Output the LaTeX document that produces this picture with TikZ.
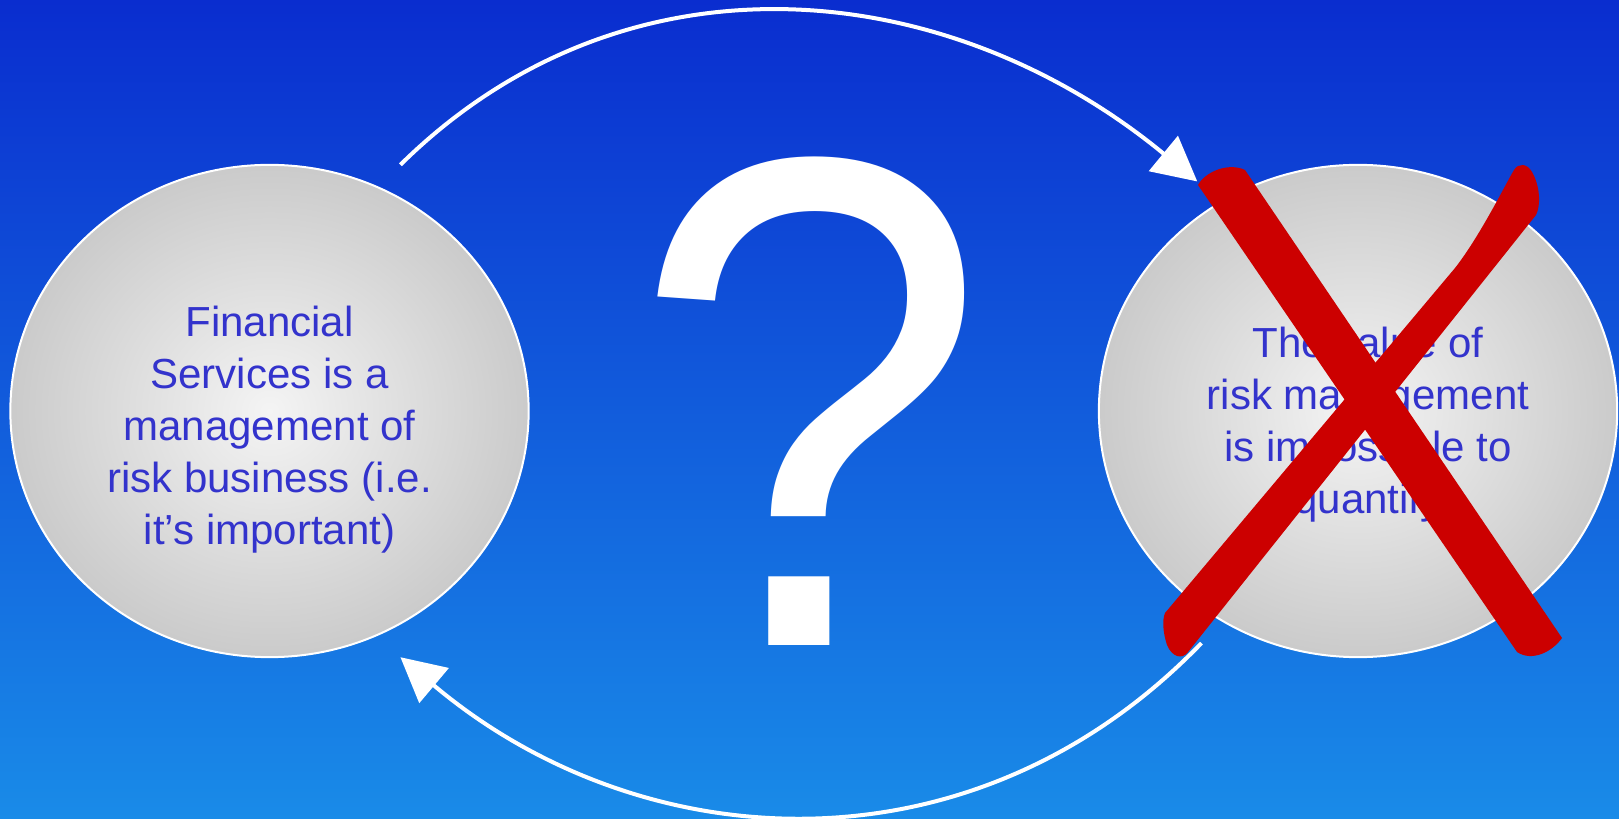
\documentclass[tikz,border=0pt]{standalone}
\usepackage{fontspec}
\setmainfont{Liberation Sans}
\usepackage{xcolor}
\usepackage{tikz}
\usetikzlibrary{shapes.geometric, arrows.meta, positioning, calc}
\definecolor{bgtop}{HTML}{0A2DCF}
\definecolor{bgbot}{HTML}{198BE8}
\definecolor{bubblerim}{HTML}{BABABA}
\definecolor{bubblemid}{HTML}{F4F4F4}
\definecolor{textblue}{HTML}{3333CC}
\definecolor{crossred}{HTML}{CC0000}
\pgfdeclareradialshading{bubbleshade}{\pgfpoint{0bp}{0bp}}{%
  color(0bp)=(bubblemid); color(35bp)=(bubblerim); color(50bp)=(bubblerim)}

\begin{document}
\begin{tikzpicture}[x=0.01cm, y=-0.01cm,
    bubble/.style={ellipse, draw=white, line width=0.2mm, shade, shading=bubbleshade,
      minimum width=5.18cm, minimum height=4.92cm, outer sep=0.3cm},
    bubbletext/.style={align=center, text=textblue,
      font=\fontsize{11.95pt}{14.8pt}\selectfont},
    loop/.style={draw=white, line width=0.4mm,
      -{Triangle[length=4.4mm, width=4.5mm]}}]
  \useasboundingbox (0,0) rectangle (1619,819);
  \shade[top color=bgtop, bottom color=bgbot] (0,0) rectangle (1619,819);
  \node[bubble] (fin) at (269.5,411) {};
  \node[bubble] (val) at (1358,411) {};
  \node[bubbletext] (fintext) at (269.5,430) {Financial\\Services is a\\management of\\risk business (i.e.\\it’s important)};
  \node[bubbletext] (valtext) at (1368,425) {The value of\\risk management\\is impossible to\\quantify};
  \draw[loop] (fin.62) .. controls +(225,-222) and +(-250,-206) .. (val.125);
  \draw[loop] (val.236.5) .. controls +(-229,237) and +(241,203) .. (fin.-62);
  \node[text=white, anchor=base, xscale=0.917, inner sep=0pt,
    font=\fontsize{199pt}{200pt}\selectfont] (qmark) at (809.5,645) {?};
  \fill[crossred] (1198,185) .. controls (1205,172) and (1228,162) .. (1245,170)
    -- (1562,638) .. controls (1552,652) and (1532,662) .. (1517,652) -- cycle;
  \fill[crossred] (1165,613) -- (1455,268) .. controls (1480,236) and (1505,185) .. (1514,170)
    .. controls (1518,163) and (1527,163) .. (1532,172)
    .. controls (1540,186) and (1541,205) .. (1536,215) -- (1188,652)
    .. controls (1182,660) and (1172,657) .. (1167,645)
    .. controls (1163,633) and (1162,620) .. (1165,613) -- cycle;
\end{tikzpicture}
\end{document}
